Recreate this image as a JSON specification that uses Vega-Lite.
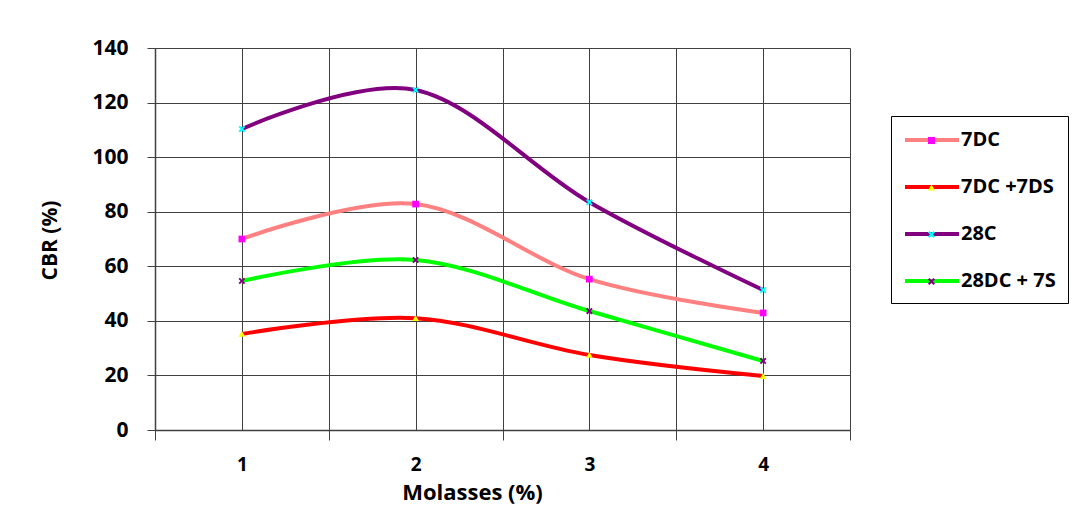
{
  "$schema": "https://vega.github.io/schema/vega-lite/v6.json",
  "autosize": "none",
  "width": 695,
  "height": 382,
  "padding": {"left": 155, "top": 48, "right": 227, "bottom": 90},
  "background": "white",
  "config": {
    "view": {"stroke": null},
    "font": "Open Sans"
  },
  "data": {
    "values": [
      {"s": "7DC", "m": 1, "v": 70},
      {"s": "7DC", "m": 2, "v": 82.8},
      {"s": "7DC", "m": 3, "v": 55.3},
      {"s": "7DC", "m": 4, "v": 42.9},
      {"s": "7DC +7DS", "m": 1, "v": 35.2},
      {"s": "7DC +7DS", "m": 2, "v": 41},
      {"s": "7DC +7DS", "m": 3, "v": 27.5},
      {"s": "7DC +7DS", "m": 4, "v": 19.8},
      {"s": "28C", "m": 1, "v": 110.3},
      {"s": "28C", "m": 2, "v": 124.6},
      {"s": "28C", "m": 3, "v": 83.5},
      {"s": "28C", "m": 4, "v": 51.3},
      {"s": "28DC + 7S", "m": 1, "v": 54.6},
      {"s": "28DC + 7S", "m": 2, "v": 62.3},
      {"s": "28DC + 7S", "m": 3, "v": 43.6},
      {"s": "28DC + 7S", "m": 4, "v": 25.3}
    ]
  },
  "encoding": {
    "x": {
      "field": "m",
      "type": "quantitative",
      "scale": {"domain": [0.5, 4.5], "nice": false, "zero": false},
      "axis": {
        "values": [0.5, 1, 1.5, 2, 2.5, 3, 3.5, 4, 4.5],
        "labelExpr": "datum.value % 1 == 0 ? datum.value : ''",
        "grid": true,
        "gridColor": "#404040",
        "gridWidth": 1,
        "domainColor": "#404040",
        "domainWidth": 1.5,
        "tickColor": "#404040",
        "tickSize": 10,
        "tickOpacity": {"condition": {"test": "datum.value % 1 == 0", "value": 0}, "value": 1},
        "labelFont": "Open Sans",
        "labelFontSize": 19,
        "labelFontWeight": "bold",
        "labelColor": "black",
        "labelPadding": 15,
        "labelBaseline": "top",
        "title": "Molasses (%)",
        "titleFont": "Open Sans",
        "titleFontSize": 22,
        "titleFontWeight": "bold",
        "titleColor": "black",
        "titleX": 317,
        "titleY": 52,
        "titleAlign": "center",
        "titleBaseline": "top"
      }
    },
    "y": {
      "field": "v",
      "type": "quantitative",
      "scale": {"domain": [0, 140], "nice": false},
      "axis": {
        "values": [0, 20, 40, 60, 80, 100, 120, 140],
        "grid": true,
        "gridColor": "#404040",
        "gridWidth": 1,
        "domainColor": "#404040",
        "domainWidth": 1.5,
        "tickColor": "#404040",
        "tickSize": 8,
        "labelFont": "Open Sans",
        "labelFontSize": 21,
        "labelFontWeight": "bold",
        "labelColor": "black",
        "labelPadding": 19,
        "title": "CBR (%)",
        "titleFont": "Open Sans",
        "titleFontSize": 21,
        "titleFontWeight": "bold",
        "titleColor": "black",
        "titleAngle": -90,
        "titleX": -105,
        "titleY": 192,
        "titleAlign": "center",
        "titleBaseline": "middle"
      }
    }
  },
  "resolve": {
    "scale": {"color": "independent", "shape": "independent"},
    "legend": {"color": "independent", "shape": "independent"}
  },
  "layer": [
    {
      "mark": {"type": "line", "interpolate": "cardinal", "strokeWidth": 4},
      "encoding": {
        "color": {
          "field": "s",
          "type": "nominal",
          "scale": {
            "domain": ["7DC", "7DC +7DS", "28C", "28DC + 7S"],
            "range": ["#FF8080", "#FF0000", "#800080", "#00FF00"]
          },
          "legend": {
            "title": null,
            "orient": "none",
            "legendX": 736,
            "legendY": 68,
            "padding": 12,
            "strokeColor": "black",
            "fillColor": "white",
            "symbolType": "M-1,0H4.4",
            "symbolSize": 400,
            "symbolStrokeWidth": 4,
            "labelOffset": 34,
            "rowPadding": 25,
            "labelFont": "Open Sans",
            "labelFontSize": 20,
            "labelFontWeight": "bold",
            "labelColor": "black",
            "labelLimit": 300
          }
        }
      }
    },
    {
      "mark": {"type": "point", "filled": true, "size": 45, "opacity": 1, "strokeWidth": 0},
      "encoding": {
        "color": {
          "field": "s",
          "type": "nominal",
          "scale": {
            "domain": ["7DC", "7DC +7DS", "28C", "28DC + 7S"],
            "range": ["#FF00FF", "#FFFF00", "#00FFFF", "#800080"]
          },
          "legend": {
            "title": null,
            "orient": "none",
            "legendX": 768,
            "legendY": 84,
            "padding": 0,
            "symbolSize": 50,
            "symbolStrokeWidth": 0,
            "symbolOpacity": 1,
            "rowPadding": 29,
            "labelFont": "Open Sans",
            "labelFontSize": 17,
            "labelExpr": "''"
          }
        },
        "shape": {
          "field": "s",
          "type": "nominal",
          "scale": {
            "domain": ["7DC", "7DC +7DS", "28C", "28DC + 7S"],
            "range": ["square", "triangle-up", "M-1,-0.6L-0.6,-1L0,-0.4L0.6,-1L1,-0.6L0.4,0L1,0.6L0.6,1L0,0.4L-0.6,1L-1,0.6L-0.4,0Z", "M-1,-0.6L-0.6,-1L0,-0.4L0.6,-1L1,-0.6L0.4,0L1,0.6L0.6,1L0,0.4L-0.6,1L-1,0.6L-0.4,0Z"]
          },
          "legend": {
            "title": null,
            "orient": "none",
            "legendX": 768,
            "legendY": 84,
            "padding": 0,
            "symbolSize": 50,
            "symbolStrokeWidth": 0,
            "rowPadding": 29,
            "labelFont": "Open Sans",
            "labelFontSize": 17,
            "labelExpr": "''"
          }
        }
      }
    }
  ]
}
